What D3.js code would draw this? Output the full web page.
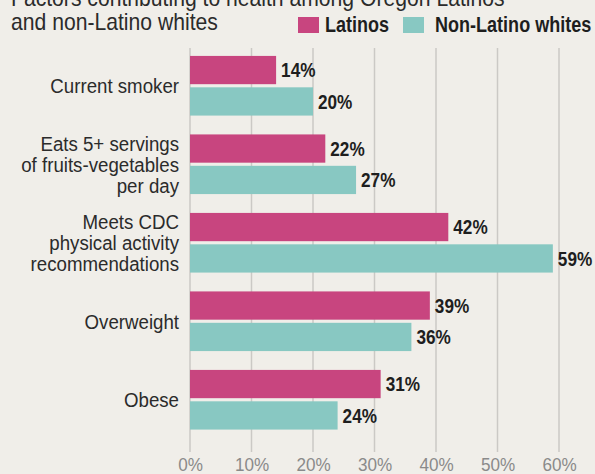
<!DOCTYPE html>
<html>
<head>
<meta charset="utf-8">
<script src="https://cdn.jsdelivr.net/npm/d3@7"></script>
<style>
  html, body { margin: 0; padding: 0; background: #f0eee9; }
  svg { display: block; }
  text { font-family: "Liberation Sans", Arial, sans-serif; }
</style>
</head>
<body>
<svg id="chart" width="595" height="474"></svg>
<script>
const categories = [
  ["Current smoker"],
  ["Eats 5+ servings", "of fruits-vegetables", "per day"],
  ["Meets CDC", "physical activity", "recommendations"],
  ["Overweight"],
  ["Obese"]
];
const seriesNames = ["Latinos", "Non-Latino whites"];
const latinos = [14, 22, 42, 39, 31];
const nonLatinoWhites = [20, 27, 59, 36, 24];
const tickValues = [0, 10, 20, 30, 40, 50, 60];
const titleLines = ["Factors contributing to health among Oregon Latinos", "and non-Latino whites"];

const colors = { "Latinos": "#c8457f", "Non-Latino whites": "#88c8c2" };
const svg = d3.select("#chart");
const W = 595, H = 474;
svg.append("rect").attr("width", W).attr("height", H).attr("fill", "#f0eee9");

// condensed text helper (horizontal squeeze of Liberation Sans)
function ctext(parent, px, py, sx) {
  return parent.append("text").attr("transform", `translate(${px},${py}) scale(${sx},1)`);
}

const keys = categories.map(c => c.join(" "));
const x = d3.scaleLinear().domain([0, 60]).range([190, 559]);
const y = d3.scaleBand().domain(keys).range([46.5, 439]).paddingInner(0.24).paddingOuter(0.12);
const ySub = d3.scaleBand().domain(seriesNames).range([0, y.bandwidth()]).paddingInner(0.1);

// gridlines
svg.append("g").selectAll("line").data(tickValues).join("line")
  .attr("x1", d => x(d)).attr("x2", d => x(d))
  .attr("y1", 48).attr("y2", 452)
  .attr("stroke", "#cbc9c5").attr("stroke-width", 1.5);

// axis labels
const axis = d3.axisBottom(x).tickValues(tickValues).tickFormat(d => d + "%").tickSize(0).tickPadding(0);
const ag = svg.append("g").attr("transform", "translate(0,471)").call(axis);
ag.select(".domain").remove();
ag.selectAll("text").attr("fill", "#8a8a8a").attr("font-size", 19)
  .attr("y", 0).attr("dy", 0)
  .attr("transform", "scale(0.9,1)")
  .style("font-family", '"Liberation Sans", Arial, sans-serif');

// bars
const rows = [];
keys.forEach((k, i) => {
  rows.push({ cat: k, s: "Latinos", v: latinos[i] });
  rows.push({ cat: k, s: "Non-Latino whites", v: nonLatinoWhites[i] });
});
const bars = svg.append("g");
bars.selectAll("rect").data(rows).join("rect")
  .attr("x", x(0))
  .attr("y", d => y(d.cat) + ySub(d.s))
  .attr("width", d => x(d.v) - x(0))
  .attr("height", ySub.bandwidth())
  .attr("fill", d => colors[d.s]);

const vl = svg.append("g");
rows.forEach(d => {
  ctext(vl, x(d.v) + 5, y(d.cat) + ySub(d.s) + ySub.bandwidth() / 2, 0.86)
    .attr("dy", "0.36em")
    .attr("font-size", 20).attr("font-weight", "bold").attr("fill", "#1e1e1e")
    .text(d.v + "%");
});

// category labels
const cl = svg.append("g");
categories.forEach((lines, i) => {
  const cy = y(keys[i]) + y.bandwidth() / 2;
  const lh = 21;
  const t = ctext(cl, 179, cy, 0.89).attr("text-anchor", "end").attr("font-size", 21).attr("fill", "#2b2b2b");
  lines.forEach((ln, j) => {
    t.append("tspan").attr("x", 0)
      .attr("y", (j - (lines.length - 1) / 2) * lh)
      .attr("dy", "0.36em").text(ln);
  });
});

// title
titleLines.forEach((ln, j) => {
  ctext(svg, 11, 6 + j * 24, 0.92).attr("font-size", 23).attr("fill", "#2b2b2b").text(ln);
});

// legend
const legend = [
  { s: "Latinos", rx: 298, tx: 325 },
  { s: "Non-Latino whites", rx: 403, tx: 435 }
];
const lg = svg.append("g");
legend.forEach(l => {
  lg.append("rect").attr("x", l.rx).attr("y", 17).attr("width", 21).attr("height", 16).attr("fill", colors[l.s]);
  ctext(lg, l.tx, 32, 0.82).attr("font-size", 22).attr("font-weight", "bold")
    .attr("fill", "#1e1e1e").text(l.s);
});
</script>
</body>
</html>
